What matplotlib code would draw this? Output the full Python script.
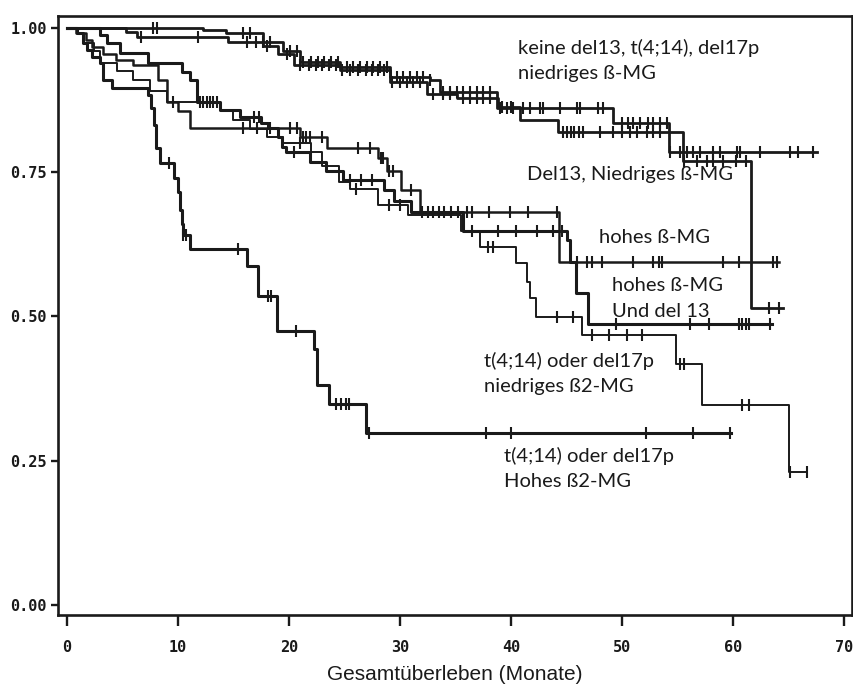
import numpy as np
import matplotlib.pyplot as plt

# Kaplan-Meier curves: step times (months), survival after each step, end of follow-up, censor times
# A: keine del13, t(4;14), del17p / niedriges ß-MG
a_t = [0, 12.3, 14.3, 17.7, 19.5, 21.0, 24.6, 29.1, 32.7, 33.6, 38.7, 49.2, 54.2]
a_s = [1.0, 0.996, 0.99, 0.975, 0.96, 0.941, 0.932, 0.915, 0.909, 0.889, 0.861, 0.835, 0.785]
a_end = 67.5
a_cens = [7.8, 8.1, 15.9, 16.5, 17.7, 18.3, 20.1, 20.7, 21.3, 22.0, 22.6, 23.2, 23.8, 24.4,
          25.2, 25.8, 26.4, 27.0, 27.6, 28.2, 28.8, 29.7, 30.3, 30.9, 31.5, 32.1, 32.7, 33.9,
          34.5, 35.1, 35.7, 36.3, 36.9, 37.5, 38.1, 39.0, 39.6, 40.2, 41.1, 41.7, 42.6, 42.9,
          44.4, 45.9, 46.2, 47.8, 48.3, 50.0, 50.5, 51.0, 51.6, 52.3, 52.8, 53.4, 54.0, 54.3,
          55.2, 55.8, 56.4, 57.0, 58.2, 58.8, 60.3, 60.6, 62.4, 65.1, 65.8, 67.2]

# B: Del13, niedriges ß-MG
b_t = [0, 5.3, 6.3, 14.5, 17.7, 19.0, 20.5, 24.6, 29.1, 32.4, 35.1, 38.8, 40.8, 44.2, 55.5, 61.6]
b_s = [1.0, 0.993, 0.984, 0.976, 0.968, 0.955, 0.935, 0.927, 0.906, 0.886, 0.878, 0.863, 0.84,
       0.82, 0.769, 0.514]
b_end = 64.5
b_cens = [6.7, 11.8, 16.2, 17.0, 18.0, 19.8, 21.0, 21.8, 22.4, 23.0, 23.6, 24.2, 24.8, 25.5,
          26.2, 26.9, 27.5, 28.0, 28.6, 29.3, 30.0, 30.6, 31.2, 31.8, 33.0, 33.9, 34.5, 35.7,
          36.3, 36.9, 37.5, 38.1, 39.2, 40.0, 44.7, 45.0, 45.4, 45.7, 46.1, 46.5, 48.0, 49.2,
          50.0, 50.7, 51.3, 52.2, 52.8, 53.4, 55.6, 56.7, 57.6, 58.2, 59.1, 60.2, 61.1, 63.2, 64.1]

# C: hohes ß-MG
c_t = [0, 0.8, 1.7, 2.3, 3.3, 4.4, 6.0, 8.2, 9.0, 10.0, 11.1, 21.0, 23.4, 28.0, 28.8, 30.1,
       31.8, 44.3]
c_s = [1.0, 0.99, 0.978, 0.967, 0.955, 0.944, 0.935, 0.91, 0.872, 0.855, 0.826, 0.811, 0.792,
       0.774, 0.751, 0.719, 0.68, 0.595]
c_end = 64.1
c_cens = [9.6, 15.9, 17.1, 18.3, 20.1, 20.7, 21.3, 21.5, 21.9, 23.0, 26.2, 27.3, 28.3, 28.5,
          29.0, 29.4, 31.0, 32.0, 32.5, 33.0, 33.5, 34.0, 34.6, 35.2, 36.0, 36.5, 38.0, 39.9,
          41.5, 44.1, 45.9, 46.8, 47.3, 48.2, 51.0, 52.8, 53.3, 53.6, 59.1, 60.5, 63.6, 63.9]

# D: hohes ß-MG und del 13
d_t = [0, 3.0, 3.6, 4.8, 7.3, 10.4, 11.1, 11.7, 13.8, 15.6, 17.5, 18.1, 19.0, 19.4, 19.7,
       21.9, 23.3, 24.9, 28.6, 29.5, 31.0, 35.7, 45.0, 45.3, 45.8, 46.9]
d_s = [1.0, 0.987, 0.973, 0.956, 0.939, 0.924, 0.909, 0.872, 0.857, 0.846, 0.835, 0.826, 0.81,
       0.793, 0.785, 0.768, 0.752, 0.736, 0.719, 0.70, 0.68, 0.647, 0.632, 0.595, 0.54, 0.486]
d_end = 63.5
d_cens = [12.0, 12.3, 12.6, 12.9, 13.2, 13.5, 16.9, 17.3, 20.5, 25.5, 26.5, 27.5, 36.5, 38.8,
          40.4, 42.3, 43.8, 44.6, 49.4, 56.1, 57.8, 60.5, 60.8, 61.1, 61.4, 63.3]

# E: t(4;14) oder del17p / niedriges ß2-MG
e_t = [0, 1.0, 1.5, 2.5, 3.0, 4.5, 6.0, 7.5, 9.0, 13.8, 15.0, 16.5, 18.0, 19.5, 22.0, 23.0,
       24.5, 25.5, 28.0, 30.7, 35.5, 37.2, 40.4, 41.4, 41.7, 42.2, 46.4, 54.8, 57.2, 65.0]
e_s = [1.0, 0.99, 0.973, 0.96, 0.938, 0.925, 0.91, 0.89, 0.872, 0.857, 0.84, 0.825, 0.81, 0.80,
       0.785, 0.76, 0.733, 0.72, 0.693, 0.676, 0.647, 0.621, 0.592, 0.56, 0.532, 0.499, 0.468,
       0.417, 0.346, 0.231]
e_end = 66.6
e_cens = [21.0, 26.0, 29.0, 30.0, 37.9, 38.4, 44.1, 45.6, 47.3, 48.8, 50.4, 51.8, 55.2, 55.6,
          60.8, 61.4, 65.1, 66.6]

# F: t(4;14) oder del17p / Hohes ß2-MG
f_t = [0, 0.9, 1.5, 1.8, 2.25, 3.0, 3.3, 4.05, 7.3, 7.6, 7.9, 8.0, 8.4, 9.7, 10.0, 10.2, 10.4,
       10.5, 11.1, 16.2, 17.2, 18.9, 22.3, 22.5, 23.6, 26.9]
f_s = [1.0, 0.99, 0.973, 0.961, 0.949, 0.938, 0.909, 0.895, 0.883, 0.861, 0.831, 0.792, 0.765,
       0.74, 0.716, 0.685, 0.66, 0.641, 0.616, 0.588, 0.536, 0.475, 0.443, 0.381, 0.349, 0.298]
f_end = 59.8
f_cens = [9.2, 10.5, 10.7, 15.4, 18.1, 18.4, 20.6, 24.2, 24.7, 25.1, 25.4, 27.2, 37.7, 40.0,
          52.1, 56.4, 59.7]

curves = [
    (a_t, a_s, a_end, a_cens, 2.0),
    (b_t, b_s, b_end, b_cens, 2.0),
    (c_t, c_s, c_end, c_cens, 1.8),
    (d_t, d_s, d_end, d_cens, 2.2),
    (e_t, e_s, e_end, e_cens, 1.4),
    (f_t, f_s, f_end, f_cens, 2.2),
]

labels = [
    (40.6, 0.965, "keine del13, t(4;14), del17p"),
    (40.6, 0.920, "niedriges ß-MG"),
    (41.4, 0.745, "Del13, Niedriges ß-MG"),
    (47.9, 0.636, "hohes ß-MG"),
    (49.1, 0.554, "hohes ß-MG"),
    (49.1, 0.508, "Und del 13"),
    (37.6, 0.423, "t(4;14) oder del17p"),
    (37.6, 0.378, "niedriges ß2-MG"),
    (39.4, 0.259, "t(4;14) oder del17p"),
    (39.4, 0.214, "Hohes ß2-MG"),
]

fig = plt.figure(figsize=(8.54, 6.86), dpi=100)
ax = fig.add_axes([0.0679, 0.1035, 0.9298, 0.8732])

for t, s, end, cens, lw in curves:
    t = np.asarray(t)
    s = np.asarray(s)
    ax.step(np.append(t, end), np.append(s, s[-1]), where='post', color='#1a1a1a', lw=lw)
    idx = np.searchsorted(t, cens, side='right') - 1
    ax.plot(cens, s[idx], ls='none', marker='|', ms=8.5, mew=1.5, color='#1a1a1a')

for x, y, txt in labels:
    ax.text(x, y, txt, ha='left', va='center', fontsize=14.5, family='Lato', color='#1a1a1a')

ax.set_xlim(-0.78, 70.68)
ax.set_ylim(-0.0173, 1.0203)
ax.set_xticks(range(0, 71, 10))
ax.set_yticks([0, 0.25, 0.5, 0.75, 1.0])
ax.set_yticklabels(['0.00', '0.25', '0.50', '0.75', '1.00'])
for lab in ax.get_xticklabels() + ax.get_yticklabels():
    lab.set_family('DejaVu Sans Mono')
    lab.set_fontweight('bold')
    lab.set_fontsize(11)
ax.tick_params(axis='x', direction='out', length=8, width=1.7, pad=10, colors='#1a1a1a')
ax.tick_params(axis='y', direction='out', length=5, width=1.7, pad=3, colors='#1a1a1a')
for sp in ax.spines.values():
    sp.set_linewidth(1.9)
    sp.set_color('#1a1a1a')

ax.set_xlabel('Gesamtüberleben (Monate)', family='Liberation Sans', fontsize=15, labelpad=7,
              color='#1a1a1a')

fig.savefig('out.png', dpi=100)
